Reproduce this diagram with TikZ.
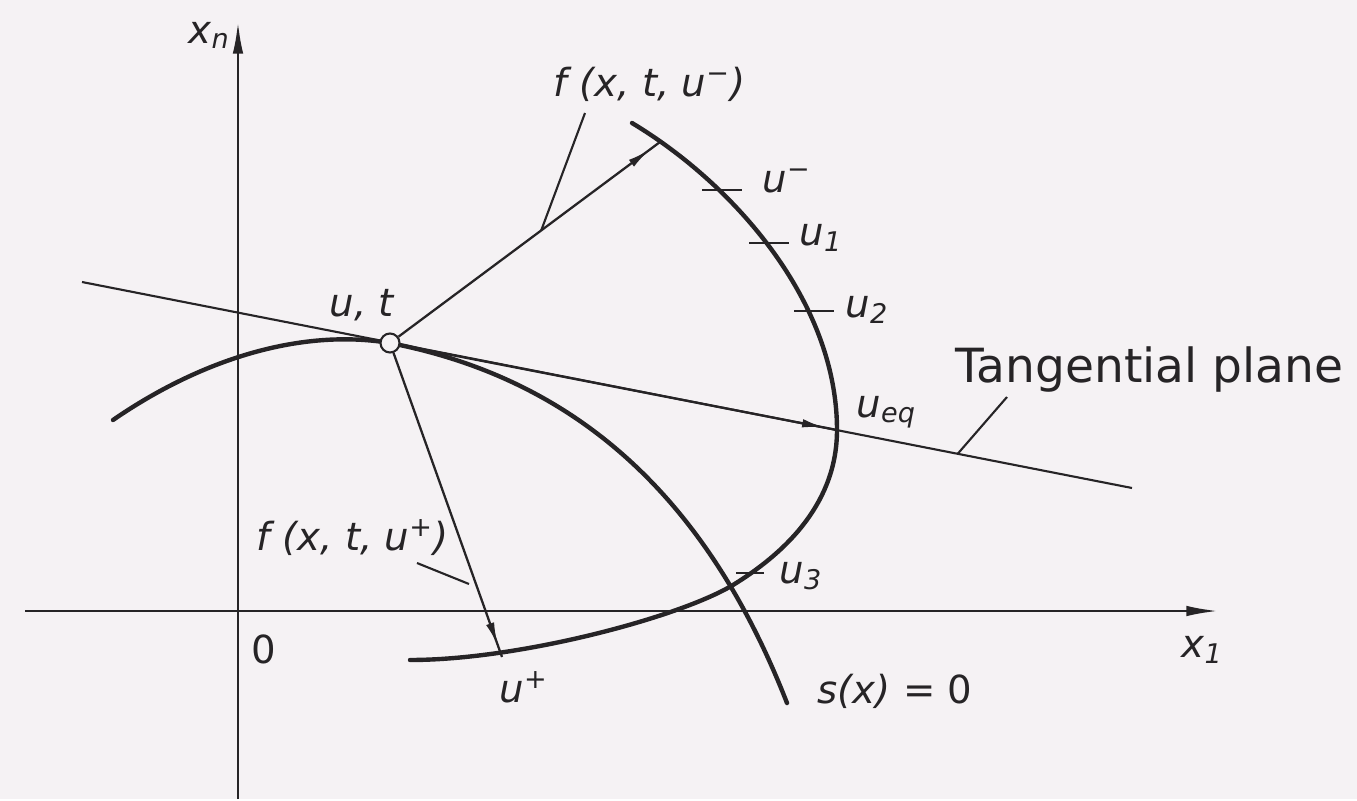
\documentclass[tikz,border=0pt]{standalone}
\usepackage{fontspec}
\setmainfont{DejaVu Sans}
\usetikzlibrary{arrows.meta,positioning,calc,decorations.markings}
\definecolor{paper}{RGB}{245,242,244}
\definecolor{ink}{RGB}{38,36,38}

\begin{document}
\begin{tikzpicture}[
   x=0.1mm, y=-0.1mm,
   every path/.style={draw=ink},
   curve/.style={line width=1.25pt, line cap=round},
   thinline/.style={line width=0.6pt},
   axis/.style={line width=0.7pt, -{Latex[length=9pt, width=3pt]}},
   vec/.style={line width=0.65pt, postaction={decorate},
      decoration={markings,
         mark=at position -3.5pt with {\arrow{Latex[length=6.5pt, width=2.4pt]}}}},
   tickmark/.style={line width=0.6pt},
   ptcircle/.style={circle, draw=ink, line width=0.6pt, fill=paper,
      minimum size=1.9mm, inner sep=0pt},
   lbl/.style={text=ink, font=\fontsize{11}{13}\selectfont\itshape, inner sep=0pt},
   uplbl/.style={text=ink, font=\fontsize{11}{13}\selectfont, inner sep=0pt},
   biglbl/.style={text=ink, font=\fontsize{13.4}{16}\selectfont, inner sep=0pt}
]
\fill[paper, draw=none] (0,0) rectangle (1357,799);

\coordinate (xaxL) at (25,611);
\coordinate (xaxR) at (1218,611);
\coordinate (yaxB) at (238,799);
\coordinate (yaxT) at (238,22);
\draw[axis] (xaxL) -- (xaxR);
\draw[axis] (yaxB) -- (yaxT);
\node[lbl, anchor=base west] (xn) at (188,43) {x\textsubscript{n}};
\node[lbl, anchor=base west] (x1) at (1181,657) {x\textsubscript{1}};
\node[uplbl, anchor=base west] (zero) at (251,663) {0};

\coordinate (tpA) at (82,282);
\coordinate (tpB) at (1132,488);
\draw[thinline] (tpA) -- (tpB);

\coordinate (sL) at (113,420);
\coordinate (P) at (390,343);
\coordinate (sR) at (787,703);
\draw[curve] (sL) .. controls (200,360) and (300,328) .. (P)
   .. controls (560,376) and (700,480) .. (sR);

\coordinate (uTop) at (632,123);
\coordinate (ueq) at (837,430);
\coordinate (uX) at (733,585);
\coordinate (uEnd) at (410,660);
\draw[curve] (uTop) .. controls (732,183) and (837,300) .. (ueq)
   .. controls (837,500) and (790,550) .. (uX)
   .. controls (680,617) and (520,660) .. (uEnd);

\coordinate (tm) at (722,190);
\coordinate (t1) at (769,243);
\coordinate (t2) at (814,311);
\coordinate (t3) at (750,573);
\foreach \t in {tm,t1,t2}
   \draw[tickmark] (\t) ++(-20,0) -- ++(40,0);
\draw[tickmark] (t3) ++(-14,0) -- ++(28,0);

\node[ptcircle] (ut) at (P) {};
\coordinate (uminus) at (660,142);
\coordinate (uplus) at (502,657);
\draw[vec] (ut) -- (uminus);
\draw[vec] (ut) -- (ueq);
\draw[vec] (ut) -- (uplus);

\node[lbl, anchor=base west] (utlbl) at (329,316) {u, t};
\node[lbl, anchor=base west] (lminus) at (762,192) {u\textsuperscript{−}};
\node[lbl, anchor=base west] (l1) at (799,245) {u\textsubscript{1}};
\node[lbl, anchor=base west] (l2) at (845,317) {u\textsubscript{2}};
\node[lbl, anchor=base west] (leq) at (856,417) {u\textsubscript{eq}};
\node[lbl, anchor=base west] (l3) at (779,583) {u\textsubscript{3}};
\node[lbl, anchor=base west] (lplus) at (499,702) {u\textsuperscript{+}};
\node[uplbl, anchor=base west] (slbl) at (817,703) {\itshape s(x)\upshape{} = 0};

\node[lbl, anchor=base west] (fminus) at (553,96) {f (x, t, u\textsuperscript{−})};
\coordinate (fmfoot) at (585,113);
\coordinate (fmon) at ($(P)!0.56!(uminus)$);
\draw[thinline] (fmfoot) -- (fmon);

\node[lbl, anchor=base west] (fplus) at (256,550) {f (x, t, u\textsuperscript{+})};
\coordinate (fpfoot) at (417,563);
\coordinate (fpon) at (469,584);
\draw[thinline] (fpfoot) -- (fpon);

\node[biglbl, anchor=base west] (tplbl) at (955,382) {Tangential plane};
\coordinate (tpfoot) at (1007,397);
\coordinate (tpon) at ($(tpA)!0.834!(tpB)$);
\draw[thinline] (tpfoot) -- (tpon);
\end{tikzpicture}
\end{document}
